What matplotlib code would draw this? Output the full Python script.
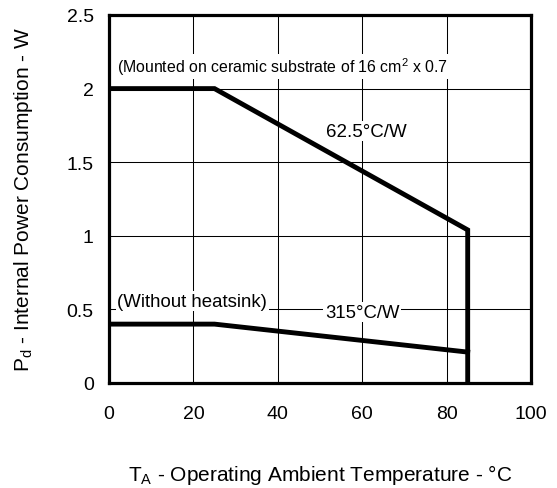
import matplotlib
matplotlib.use("Agg")
import matplotlib.pyplot as plt

plt.rcParams['font.family'] = ['Liberation Sans', 'DejaVu Sans']
plt.rcParams['mathtext.fontset'] = 'custom'
plt.rcParams['mathtext.rm'] = 'Liberation Sans'

# Data
temp_heatsink = [0, 25, 85, 85]
power_heatsink = [2.0, 2.0, 1.04, 0.0]
temp_no_heatsink = [0, 25, 85]
power_no_heatsink = [0.4, 0.4, 0.21]
x_ticks = [0, 20, 40, 60, 80, 100]
y_ticks = [0, 0.5, 1, 1.5, 2, 2.5]
y_tick_labels = ['0', '0.5', '1', '1.5', '2', '2.5']

fig = plt.figure(figsize=(5.57, 4.89), dpi=100)
ax = fig.add_axes([109/557, 1-384/489, (531-109)/557, (384-16)/489])

ax.set_xlim(0, 100)
ax.set_ylim(0, 2.5)
ax.set_xticks(x_ticks)
ax.set_yticks(y_ticks)
ax.set_yticklabels(y_tick_labels)
ax.grid(True, color='black', linewidth=0.75)
ax.set_axisbelow(True)
for s in ax.spines.values():
    s.set_linewidth(2.3)
    s.set_color('black')
ax.tick_params(length=0, labelsize=14)
ax.tick_params(axis='x', pad=16)
ax.tick_params(axis='y', pad=11)

ax.plot(temp_heatsink, power_heatsink, color='black', linewidth=3.5, solid_joinstyle='miter', zorder=3)
ax.plot(temp_no_heatsink, power_no_heatsink, color='black', linewidth=3.5, solid_joinstyle='miter', zorder=3)

bbox = dict(facecolor='white', edgecolor='none', pad=1)
ax.text(2, 2.15, '(Mounted on ceramic substrate of 16 cm$^\\mathregular{2}$ x 0.7', fontsize=11.4,
        va='center', ha='left', bbox=bbox, zorder=4)
ax.text(61, 1.71, '62.5°C/W', fontsize=13.5, va='center', ha='center', bbox=bbox, zorder=4)
ax.text(2, 0.557, '(Without heatsink)', fontsize=13.4, va='center', ha='left', bbox=bbox, zorder=4)
ax.text(60, 0.48, '315°C/W', fontsize=13.3, va='center', ha='center', bbox=bbox, zorder=4)

ax.set_xlabel('T$_\\mathregular{A}$ - Operating Ambient Temperature - °C', fontsize=15, labelpad=29)
ax.set_ylabel('P$_\\mathregular{d}$ - Internal Power Consumption - W', fontsize=15, labelpad=23)

fig.savefig('out.png', dpi=100)
